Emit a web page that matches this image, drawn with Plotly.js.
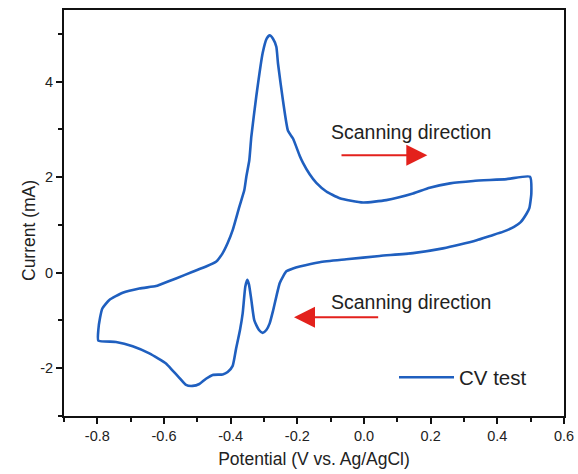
<!DOCTYPE html>
<html>
<head>
<meta charset="utf-8">
<script src="https://cdn.plot.ly/plotly-3.0.1.min.js"></script>
<style>html,body{margin:0;padding:0;background:#fff;}#chart{width:578px;height:474px;}</style>
</head>
<body>
<div id="chart"></div>
<script>
// CV loop (potential in V, current in mA)
var potential = [
  -0.797, -0.797, -0.792, -0.785, -0.764, -0.724, -0.674, -0.624, -0.609, -0.564,
  -0.514, -0.474, -0.444, -0.424, -0.409, -0.394, -0.374, -0.359, -0.353, -0.344,
  -0.338, -0.323, -0.304, -0.292, -0.283, -0.273, -0.263, -0.258, -0.243, -0.228,
  -0.213, -0.193, -0.183, -0.163, -0.143, -0.113, -0.073, -0.003, 0.067, 0.147,
  0.197, 0.258, 0.328, 0.428, 0.498,
  0.502, 0.496, 0.488, 0.470, 0.450, 0.418, 0.378, 0.338, 0.288, 0.237,
  0.147, 0.047, -0.053,
  -0.133, -0.193, -0.213, -0.233, -0.243, -0.253, -0.263, -0.273, -0.283, -0.293,
  -0.304, -0.315, -0.329, -0.338, -0.345, -0.350, -0.356, -0.364, -0.372, -0.384,
  -0.394, -0.409, -0.424, -0.454, -0.474, -0.494, -0.514, -0.534, -0.554, -0.574,
  -0.594, -0.644, -0.694, -0.744, -0.797
];
var current = [
  -1.42, -1.20, -0.95, -0.75, -0.57, -0.42, -0.33, -0.28, -0.24, -0.12,
  0.02, 0.13, 0.23, 0.41, 0.62, 0.89, 1.38, 1.73, 2.01, 2.36,
  2.85, 3.70, 4.60, 4.90, 4.97, 4.90, 4.73, 4.38, 3.60, 2.97,
  2.81, 2.45, 2.30, 2.06, 1.88, 1.70, 1.56, 1.47, 1.52, 1.66,
  1.78, 1.87, 1.92, 1.96, 2.01,
  1.66, 1.35, 1.24, 1.06, 0.96, 0.86, 0.77, 0.68, 0.59, 0.51,
  0.41, 0.35, 0.28,
  0.22, 0.13, 0.09, 0.03, -0.08, -0.22, -0.50, -0.80, -1.06, -1.20,
  -1.26, -1.20, -1.00, -0.57, -0.25, -0.15, -0.29, -0.85, -1.20, -1.60,
  -1.95, -2.08, -2.13, -2.14, -2.22, -2.33, -2.37, -2.35, -2.20, -2.05,
  -1.90, -1.69, -1.54, -1.45, -1.42
];
var seriesName = "CV test";
var xTickVals = [-0.8, -0.6, -0.4, -0.2, 0.0, 0.2, 0.4, 0.6];
var xTickText = ["-0.8", "-0.6", "-0.4", "-0.2", "0.0", "0.2", "0.4", "0.6"];
var yTickVals = [-2, 0, 2, 4];
var yTickText = ["-2", "0", "2", "4"];
var xTitle = "Potential (V vs. Ag/AgCl)";
var yTitle = "Current (mA)";
var arrowLabel = "Scanning direction";
// arrows: [tail x, tip x, y] in data units
var arrowForward = [-0.072, 0.19, 2.46];
var arrowBackward = [0.047, -0.21, -0.93];

var FONT = "Liberation Sans, Arial, Helvetica, sans-serif";
var BLUE = "#1f5fbf";
var RED = "#e3211c";

var trace = {
  x: potential, y: current, type: "scatter", mode: "lines", name: seriesName,
  line: {color: BLUE, width: 2.6, shape: "spline", smoothing: 0.5}
};

function axisCommon() {
  return {
    showgrid: false, zeroline: false, showline: true, linecolor: "#111", linewidth: 2,
    mirror: true, ticks: "outside", ticklen: 6, tickwidth: 2, tickcolor: "#111",
    tickfont: {family: FONT, size: 14.5, color: "#222"}, fixedrange: true
  };
}
var xaxis = axisCommon();
Object.assign(xaxis, {
  range: [-0.9, 0.6], tickmode: "array", tickvals: xTickVals, ticktext: xTickText,
  minor: {dtick: 0.1, tick0: 0, ticks: "outside", ticklen: 4, tickwidth: 2, tickcolor: "#111"},
  title: {text: xTitle, font: {family: FONT, size: 17.5, color: "#222"}, standoff: 9}
});
var yaxis = axisCommon();
Object.assign(yaxis, {
  range: [-3, 5.5], tickmode: "array", tickvals: yTickVals, ticktext: yTickText,
  minor: {dtick: 1, tick0: 1, ticks: "outside", ticklen: 4, tickwidth: 2, tickcolor: "#111"},
  title: {text: ""}
});

function arrowAnn(a) {
  return {x: a[1], y: a[2], ax: a[0], ay: a[2], xref: "x", yref: "y", axref: "x", ayref: "y",
    text: "", showarrow: true, arrowhead: 2, arrowsize: 2.1, arrowwidth: 2, arrowcolor: RED,
    standoff: 0, startstandoff: 0};
}

var layout = {
  width: 578, height: 474,
  margin: {l: 64, r: 14, t: 10, b: 58},
  paper_bgcolor: "#fff", plot_bgcolor: "#fff",
  font: {family: FONT, color: "#222"},
  xaxis: xaxis, yaxis: yaxis,
  showlegend: true,
  legend: {x: 0.66, y: 0.095, xanchor: "left", yanchor: "middle", bgcolor: "rgba(0,0,0,0)",
    itemwidth: 55, font: {family: FONT, size: 20.5, color: "#222"}},
  annotations: [
    {x: 0.14, y: 2.95, xref: "x", yref: "y", text: arrowLabel, showarrow: false,
      font: {family: FONT, size: 19.5, color: "#222"}},
    {x: 0.14, y: -0.61, xref: "x", yref: "y", text: arrowLabel, showarrow: false,
      font: {family: FONT, size: 19.5, color: "#222"}},
    arrowAnn(arrowForward), arrowAnn(arrowBackward),
    {x: 0, y: 0, xref: "paper", yref: "paper", text: yTitle, showarrow: false, textangle: -90,
      font: {family: FONT, size: 17.5, color: "#222"}}
  ]
};
// y-title position given in pixels; convert to paper coords
layout.annotations[4].x = (17 - 64) / 500;
layout.annotations[4].y = (416 - 231) / 406;

Plotly.newPlot("chart", [trace], layout, {staticPlot: true, displayModeBar: false});
</script>
</body>
</html>
